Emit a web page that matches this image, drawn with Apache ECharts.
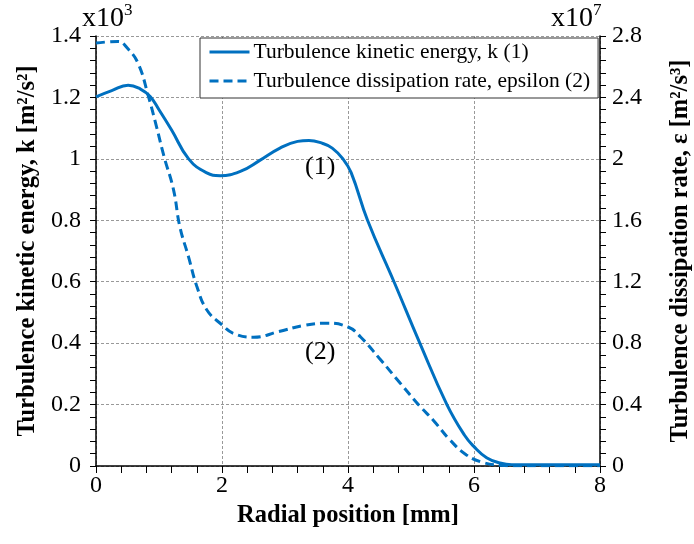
<!DOCTYPE html>
<html>
<head>
<meta charset="utf-8">
<script src="https://cdn.jsdelivr.net/npm/echarts@6/dist/echarts.min.js"></script>
<style>
  html, body { margin: 0; padding: 0; background: #fff; }
  #chart { width: 694px; height: 544px; }
</style>
</head>
<body>
<div id="chart"></div>
<script>
// Radial profiles of turbulence quantities
const radialK = [0, 0.25, 0.51, 0.7, 0.86, 1.0, 1.2, 1.47, 1.75, 1.97, 2.3, 2.6, 2.92, 3.2, 3.38, 3.6, 3.75, 3.92, 4.05, 4.31, 4.73, 5.14, 5.57, 5.85, 6.0, 6.2, 6.41, 6.6, 7.0, 7.5, 8.0];
const kValues = [1.202, 1.222, 1.24, 1.228, 1.203, 1.16, 1.094, 1.0, 0.955, 0.945, 0.96, 0.995, 1.035, 1.057, 1.06, 1.05, 1.035, 1.0, 0.955, 0.8, 0.6, 0.4, 0.2, 0.1, 0.063, 0.027, 0.01, 0.004, 0.004, 0.004, 0.004];

const radialEps = [0, 0.2, 0.35, 0.5, 0.67, 0.83, 0.96, 1.08, 1.23, 1.33, 1.47, 1.6, 1.76, 2.0, 2.18, 2.5, 2.9, 3.3, 3.65, 4.0, 4.2, 4.5, 4.83, 5.14, 5.36, 5.62, 5.88, 6.15, 6.41, 6.6, 7.0, 8.0];
const epsValues = [2.755, 2.762, 2.765, 2.72, 2.62, 2.41, 2.21, 2.015, 1.80, 1.56, 1.36, 1.17, 1.016, 0.919, 0.864, 0.838, 0.875, 0.915, 0.93, 0.905, 0.84, 0.70, 0.539, 0.39, 0.295, 0.169, 0.072, 0.022, 0.005, 0.002, 0.002, 0.002];

const seriesNames = ['Turbulence kinetic energy, k (1)', 'Turbulence dissipation rate, epsilon (2)'];
const xTitle = 'Radial position [mm]';
const kTitle = 'Turbulence kinetic energy, k [m²/s²]';
const epsTitle = 'Turbulence dissipation rate, ε [m²/s³]';

// curve tags: [x, y, axis index, text]
const curveTags = [[3.56, 0.974, 0, '(1)'], [3.56, 0.743, 1, '(2)']];

const FONT = '"Liberation Serif", "Times New Roman", serif';
const BLUE = '#0070C0';
const pair = (xs, ys) => xs.map((x, i) => [x, ys[i]]);

const chart = echarts.init(document.getElementById('chart'));

const gridLine = { show: true, lineStyle: { color: '#999', type: [3, 2], width: 1 } };
const tick = { show: true, inside: false, length: 6, lineStyle: { color: '#000', width: 1 } };
const minor = { show: true, splitNumber: 5, length: 6, lineStyle: { color: '#000', width: 1 } };
const axisLabel = { color: '#000', fontFamily: FONT, fontSize: 24 };
const nameStyle = { color: '#000', fontFamily: FONT, fontSize: 24.5, fontWeight: 'bold' };

chart.setOption({
  animation: false,
  backgroundColor: '#fff',
  grid: { left: 96, right: 94, top: 36, bottom: 78, containLabel: false, outerBoundsMode: 'none' },
  legend: {
    orient: 'vertical',
    left: 200, top: 38,
    padding: [3, 8, 6, 8],
    itemGap: 7,
    itemWidth: 40, itemHeight: 14,
    borderColor: '#333', borderWidth: 1,
    backgroundColor: '#fff',
    itemStyle: { opacity: 0 },
    lineStyle: { width: 3 },
    textStyle: { color: '#000', fontFamily: FONT, fontSize: 21.5, padding: [0, 0, 0, -1] },
    data: seriesNames
  },
  xAxis: {
    type: 'value', min: 0, max: 8, interval: 2,
    name: xTitle, nameLocation: 'middle', nameGap: 18,
    nameTextStyle: nameStyle,
    axisLine: { show: true, onZero: false, lineStyle: { color: '#000', width: 1.5 } },
    axisTick: Object.assign({}, tick, { length: 7 }),
    minorTick: Object.assign({}, minor, { length: 7 }),
    axisLabel: Object.assign({}, axisLabel, { margin: 8 }),
    splitLine: gridLine
  },
  yAxis: [
    {
      type: 'value', min: 0, max: 1.4, interval: 0.2, position: 'left',
      name: kTitle, nameLocation: 'middle', nameGap: 56, nameRotate: 90,
      nameTextStyle: nameStyle,
      axisLine: { show: true, lineStyle: { color: '#000', width: 1.5 } },
      axisTick: tick, minorTick: minor,
      axisLabel: Object.assign({}, axisLabel, { margin: 15 }),
      splitLine: gridLine
    },
    {
      type: 'value', min: 0, max: 2.8, interval: 0.4, position: 'right',
      name: epsTitle, nameLocation: 'middle', nameGap: 68, nameRotate: 90,
      nameTextStyle: nameStyle,
      axisLine: { show: true, lineStyle: { color: '#000', width: 1.5 } },
      axisTick: tick, minorTick: minor,
      axisLabel: Object.assign({}, axisLabel, { margin: 12 }),
      splitLine: { show: false }
    }
  ],
  series: [
    {
      name: seriesNames[0], type: 'line', yAxisIndex: 0,
      data: pair(radialK, kValues),
      smooth: 0.45, symbol: 'none',
      lineStyle: { color: BLUE, width: 3 }, itemStyle: { color: BLUE }
    },
    {
      name: seriesNames[1], type: 'line', yAxisIndex: 1,
      data: pair(radialEps, epsValues),
      smooth: 0.45, symbol: 'none',
      lineStyle: { color: BLUE, width: 3, type: [9, 5] }, itemStyle: { color: BLUE }
    }
  ]
});

// axis multipliers and curve tags
const sup = { fontFamily: FONT, fontSize: 17, color: '#000', padding: [0, 0, 16, 0] };
const graphics = [
  {
    type: 'text', left: 82, top: 2,
    style: { text: 'x10{s|3}', fontFamily: FONT, fontSize: 28, fill: '#000', rich: { s: sup } }
  },
  {
    type: 'text', left: 551, top: 2,
    style: { text: 'x10{s|7}', fontFamily: FONT, fontSize: 28, fill: '#000', rich: { s: sup } }
  }
];
curveTags.forEach(([x, y, idx, txt]) => {
  const p = chart.convertToPixel({ xAxisIndex: 0, yAxisIndex: idx }, [x, y]);
  graphics.push({
    type: 'text', x: p[0], y: p[1],
    style: { text: txt, fontFamily: FONT, fontSize: 26, fill: '#000', align: 'center', verticalAlign: 'middle' }
  });
});
chart.setOption({ graphic: graphics });
</script>
</body>
</html>
